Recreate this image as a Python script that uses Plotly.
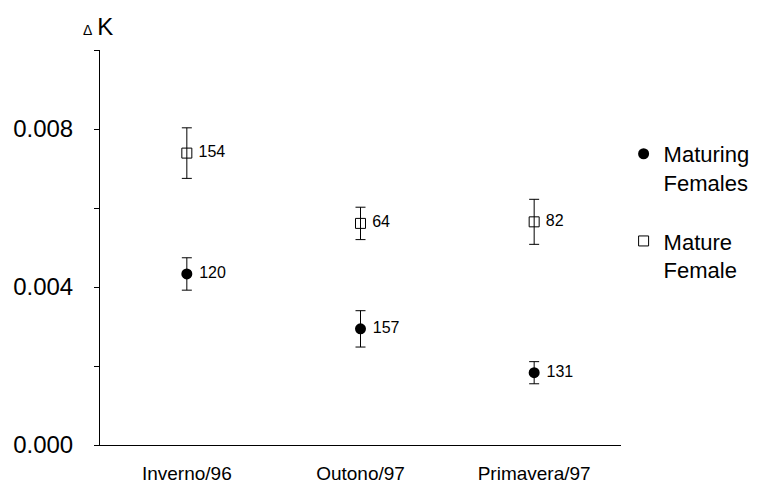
import plotly.graph_objects as go

categories = ["Inverno/96", "Outono/97", "Primavera/97"]
maturing_vals = [0.00433, 0.00294, 0.00183]
maturing_err = [0.00041, 0.00046, 0.00028]
maturing_n = ["120", "157", "131"]
mature_vals = [0.00739, 0.00561, 0.00565]
mature_err = [0.00064, 0.00041, 0.00057]
mature_n = ["154", "64", "82"]
ytick_vals = [0.0, 0.002, 0.004, 0.006, 0.008, 0.010]
ytick_text = ["0.000", "", "0.004", "", "0.008", ""]

font_family = "Liberation Sans, Arial, sans-serif"

# plot area in figure pixel coords (page body adds an 8px offset)
L, T, W, H = 92, 42, 521, 395
FIG_W, FIG_H = 751, 479

fig = go.Figure()
fig.add_trace(go.Scatter(
    x=categories, y=maturing_vals, mode="markers+text",
    name="Maturing<br>Females", legendgroup="a",
    text=[" " + t for t in maturing_n], textposition="middle right",
    textfont=dict(size=16, color="black", family=font_family),
    marker=dict(symbol="circle", size=11, color="black"),
    error_y=dict(type="data", array=maturing_err, color="black", thickness=1, width=5),
))
fig.add_trace(go.Scatter(
    x=categories, y=mature_vals, mode="markers+text",
    name="Mature<br>Female", legendgroup="b",
    text=[" " + t for t in mature_n], textposition="middle right",
    textfont=dict(size=16, color="black", family=font_family),
    marker=dict(symbol="square-open", size=10, color="black", line=dict(width=1)),
    error_y=dict(type="data", array=mature_err, color="black", thickness=1, width=5),
))

fig.update_layout(
    width=FIG_W, height=FIG_H,
    margin=dict(l=L, r=FIG_W - L - W, t=T, b=FIG_H - T - H, autoexpand=False),
    paper_bgcolor="white", plot_bgcolor="white",
    font=dict(family=font_family, color="black"),
    showlegend=True,
    legend=dict(x=1.005, y=0.79, xanchor="left", yanchor="top", valign="top",
                font=dict(size=22), tracegroupgap=27, itemwidth=30,
                bgcolor="rgba(0,0,0,0)"),
    xaxis=dict(type="category", range=[-0.5, 2.5], showline=True, linecolor="black",
               linewidth=1, ticks="", showgrid=False, zeroline=False,
               tickfont=dict(size=19), ticklabelstandoff=11),
    yaxis=dict(range=[0, 0.0100], showline=True, linecolor="black", linewidth=1,
               ticks="outside", ticklen=5, tickcolor="black",
               tickvals=ytick_vals, ticktext=ytick_text,
               showgrid=False, zeroline=False, tickfont=dict(size=24),
               ticklabelstandoff=16),
    annotations=[dict(text="<span style='font-size:14px'>Δ</span>\u2009K",
                      xref="paper", yref="paper",
                      x=(73 - L) / W, y=1 + (T - 19) / H,
                      xanchor="left", yanchor="middle", showarrow=False,
                      font=dict(size=24))],
)
fig.write_html("out.html")
